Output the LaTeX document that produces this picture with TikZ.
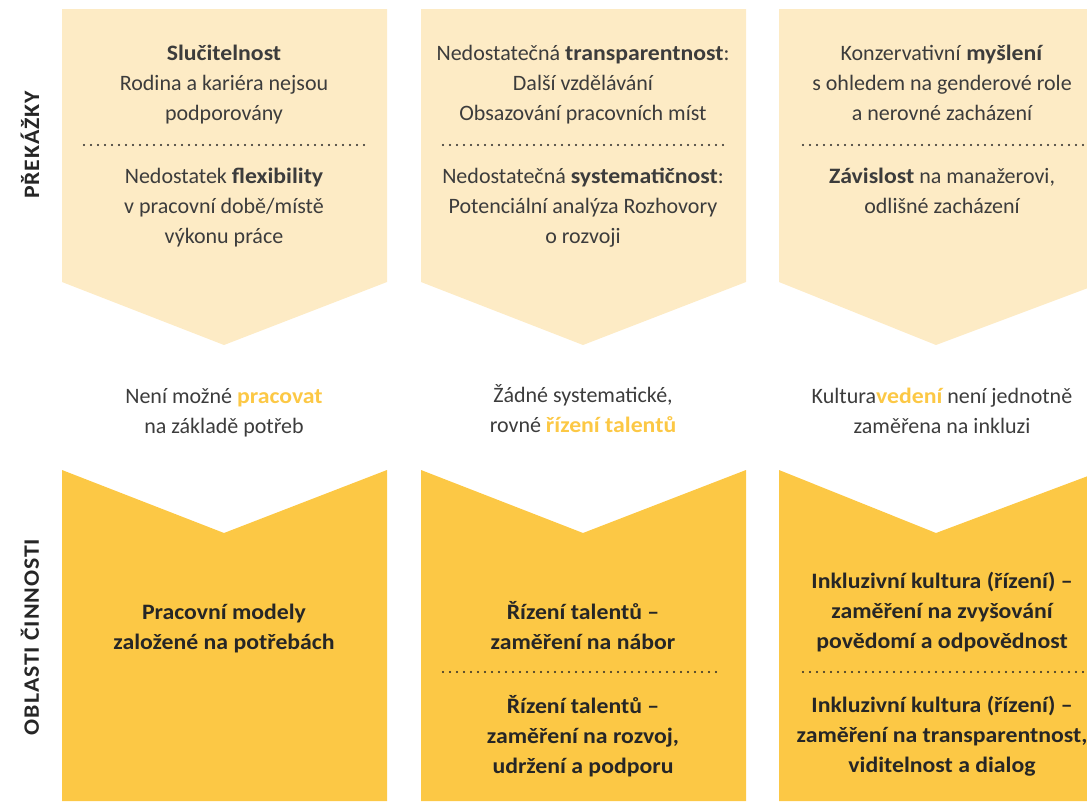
\documentclass[tikz,border=0pt]{standalone}
\usepackage{fontspec}
\setmainfont{Carlito}[BoldFeatures={FakeStretch=1.08}]
\definecolor{paleyellow}{HTML}{FDEBC5}
\definecolor{sunyellow}{HTML}{FCC845}
\definecolor{bodytext}{HTML}{3C3C3C}
\definecolor{darktext}{HTML}{262626}
\newcommand{\hl}[1]{{\bfseries\color{sunyellow}#1}}
\begin{document}
\begin{tikzpicture}[x=1pt,y=-1pt,
  txt/.style={inner sep=0pt, align=center, text=bodytext,
    font=\fontsize{22}{30}\selectfont,
    execute at begin node=\strut, execute at end node=\strut},
  boldtxt/.style={txt, text=darktext, font=\fontsize{22}{30}\selectfont\bfseries},
  sep/.style={draw=darktext, line width=2.4pt, line cap=round, dash pattern=on 0pt off 7pt},
  sidelabel/.style={inner sep=0pt, rotate=90, text=darktext,
    font=\fontsize{22}{26}\selectfont\bfseries\addfontfeature{LetterSpace=4}},
  toppanel/.style={fill=paleyellow},
  botpanel/.style={fill=sunyellow}
]
\useasboundingbox (0,0) rectangle (1087,801);
\clip (0,0) rectangle (1087,801);

% obstacle panels (pointing down) and action panels (notched on top)
\foreach \l/\r/\p in {62/387/224, 421/746/583, 779/1104/936}{
  \path[toppanel] (\l,9) -- (\r,9) -- (\r,282) -- (\p,345) -- (\l,282) -- cycle;
  \path[botpanel] (\l,470) -- (\p,533) -- (\r,470) -- (\r,801) -- (\l,801) -- cycle;
}

% side labels
\node[sidelabel] (lab1) at (30,145) {PŘEKÁŽKY};
\node[sidelabel] (lab2) at (30,637) {OBLASTI ČINNOSTI};

% obstacles
\node[txt] (t1a) at (224,87.5) {\textbf{Slučitelnost}\\Rodina a kariéra nejsou\\podporovány};
\node[txt] (t1b) at (224,210.5) {Nedostatek \textbf{flexibility}\\v pracovní době/místě\\výkonu práce};
\node[txt] (t2a) at (583,87.5) {Nedostatečná \textbf{transparentnost}:\\Další vzdělávání\\Obsazování pracovních míst};
\node[txt] (t2b) at (583,210.5) {Nedostatečná \textbf{systematičnost}:\\Potenciální analýza Rozhovory\\o rozvoji};
\node[txt] (t3a) at (942,87.5) {Konzervativní \textbf{myšlení}\\s ohledem na genderové role\\a nerovné zacházení};
\node[txt] (t3b) at (942,195.5) {\textbf{Závislost} na manažerovi,\\odlišné zacházení};

\draw[sep] (84,145) -- (365,145);
\draw[sep] (443,145) -- (725,145);
\draw[sep] (803,145) -- (1090,145);

% consequences
\node[txt] (m1) at (224,415.5) {Není možné \hl{pracovat}\\na základě potřeb};
\node[txt] (m2) at (583,412.5) {Žádné systematické,\\rovné \hl{řízení talentů}};
\node[txt] (m3) at (942,415) {Kultura\hl{vedení} není jednotně\\zaměřena na inkluzi};

% fields of action
\node[boldtxt] (b1) at (224,631) {Pracovní modely\\založené na potřebách};
\node[boldtxt] (b2a) at (583,630) {Řízení talentů –\\zaměření na nábor};
\node[boldtxt] (b2b) at (583,739) {Řízení talentů –\\zaměření na rozvoj,\\udržení a podporu};
\node[boldtxt] (b3a) at (942,615) {Inkluzivní kultura (řízení) –\\zaměření na zvyšování\\povědomí a odpovědnost};
\node[boldtxt] (b3b) at (942,739) {Inkluzivní kultura (řízení) –\\zaměření na transparentnost,\\viditelnost a dialog};

\draw[sep] (443,672) -- (723,672);
\draw[sep] (803,672) -- (1090,672);
\end{tikzpicture}
\end{document}
